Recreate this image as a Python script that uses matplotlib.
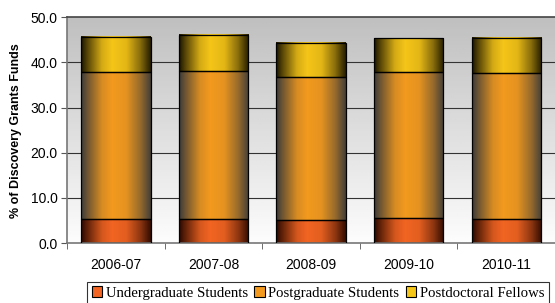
import numpy as np
import matplotlib
matplotlib.use("Agg")
import matplotlib.pyplot as plt
from matplotlib.patches import Rectangle
from matplotlib.colors import to_rgb

# данные
years = ["2006-07", "2007-08", "2008-09", "2009-10", "2010-11"]
undergrad = [5.3, 5.3, 5.1, 5.6, 5.3]
postgrad = [32.6, 32.7, 31.6, 32.2, 32.3]
postdoc = [7.8, 8.0, 7.7, 7.5, 7.9]
series_names = ["Undergraduate Students", "Postgraduate Students", "Postdoctoral Fellows"]

centers = ["#f26522", "#f39a1e", "#f5c518"]
edges = ["#2a0800", "#3a3a3a", "#1a1400"]


def bar_gradient(center, edge, n=200):
    """Горизонтальный градиент: тёмные края, светлый центр"""
    t = np.linspace(0, 1, n)
    f = np.interp(t, [0, 0.08, 0.3, 0.45, 0.65, 0.85, 1.0],
                  [0.0, 0.25, 0.85, 1.0, 0.92, 0.5, 0.05])
    c = np.array(to_rgb(center))
    e = np.array(to_rgb(edge))
    return (e[None, :] + (c - e)[None, :] * f[:, None])[None, :, :]


fig = plt.figure(figsize=(5.55, 3.03), dpi=100)
ax = fig.add_axes([0.121, 0.198, 0.879, 0.745])

# фон с вертикальным градиентом (серый сверху, белый снизу)
bg = np.linspace(0.75, 0.99, 100)[:, None]
ax.imshow(np.repeat(bg, 2, axis=1), cmap="gray", vmin=0, vmax=1,
          extent=(-0.5, 4.5, 0, 50), aspect="auto", zorder=0)

for yv in [10, 20, 30, 40]:
    ax.axhline(yv, color="#333333", lw=0.8, zorder=1)

width = 0.71
x = np.arange(len(years))
bottoms = np.zeros(len(years))
for vals, c, e in zip([undergrad, postgrad, postdoc], centers, edges):
    grad = bar_gradient(c, e)
    for i in range(len(years)):
        x0 = x[i] - width / 2
        ax.imshow(grad, extent=(x0, x0 + width, bottoms[i], bottoms[i] + vals[i]),
                  aspect="auto", zorder=2, interpolation="bilinear")
        ax.add_patch(Rectangle((x0, bottoms[i]), width, vals[i], fill=False,
                               edgecolor="black", lw=0.9, zorder=3))
    bottoms += np.array(vals)

ax.set_xlim(-0.5, 4.5)
ax.set_ylim(0, 50)

ax.set_xticks(x)
ax.set_xticklabels(years, fontsize=10, family="Liberation Sans")
ax.set_xticks(np.arange(-0.5, 5, 1), minor=True)
ax.tick_params(axis="x", which="major", length=0, pad=11)
ax.tick_params(axis="x", which="minor", length=4, color="#555555", direction="out")
ax.set_yticks(np.arange(0, 51, 10))
ax.set_yticklabels([f"{v:.1f}" for v in np.arange(0, 51, 10)], fontsize=10,
                   family="Liberation Sans")
ax.tick_params(axis="y", length=4, color="#555555", direction="out", pad=3)

ax.set_ylabel("% of Discovery Grants Funds", fontsize=9, fontweight="bold",
              family="Liberation Sans", labelpad=6)

ax.spines["right"].set_visible(False)
ax.spines["top"].set_color("#444444")
ax.spines["left"].set_color("#777777")
ax.spines["bottom"].set_color("#777777")
for s in ax.spines.values():
    s.set_linewidth(1.2)

# легенда внизу, частично обрезана краем, как в оригинале
handles = [Rectangle((0, 0), 1, 1, facecolor=c, edgecolor="black", lw=0.8)
           for c in centers]
leg = fig.legend(handles, series_names, loc="upper center", bbox_to_anchor=(0.573, 0.07),
                 ncol=3, frameon=True, fancybox=False, edgecolor="black",
                 prop={"family": "Liberation Serif", "size": 10.6},
                 handlelength=0.7, handleheight=0.7, handletextpad=0.25,
                 columnspacing=0.45, borderpad=0.3, borderaxespad=0)
leg.get_frame().set_linewidth(0.8)

fig.savefig("out.png", dpi=100)
